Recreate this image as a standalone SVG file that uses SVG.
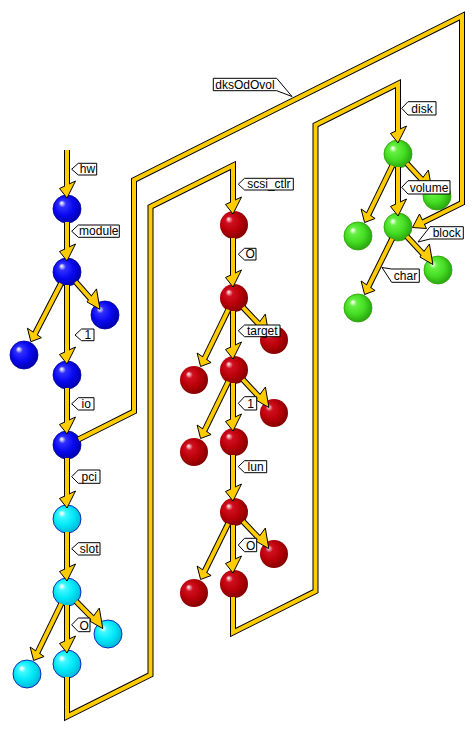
<svg xmlns="http://www.w3.org/2000/svg" xmlns:xlink="http://www.w3.org/1999/xlink" width="476" height="732" viewBox="0 0 476 732">
<style>
.ol{fill:none;stroke:#000;stroke-width:6;stroke-linejoin:miter;stroke-linecap:butt}
.yl{fill:none;stroke:#ffcc00;stroke-width:4;stroke-linejoin:miter;stroke-linecap:butt}
.ah{fill:#ffcc00;stroke:#000;stroke-width:1;stroke-linejoin:miter}
.blue{fill:url(#gBlue);stroke:#0000a0;stroke-width:0.8}
.cyan{fill:url(#gCyan);stroke:#0000b0;stroke-width:0.8}
.red{fill:url(#gRed)}
.green{fill:url(#gGreen);stroke:#30a000;stroke-width:0.8}
.tag{fill:#fff;stroke:#000;stroke-width:1}
.lt{font-family:"Liberation Sans",Arial,sans-serif;font-size:12px;fill:#000;text-anchor:middle}
</style>
<defs>
<radialGradient id="gBlue" cx="0.45" cy="0.45" r="0.58" fx="0.3" fy="0.28">
<stop offset="0" stop-color="#ffffff"/><stop offset="0.08" stop-color="#c0c0ff"/><stop offset="0.22" stop-color="#3030ff"/><stop offset="0.6" stop-color="#0808f0"/><stop offset="1" stop-color="#0000a8"/>
</radialGradient>
<radialGradient id="gCyan" cx="0.45" cy="0.45" r="0.58" fx="0.3" fy="0.28">
<stop offset="0" stop-color="#ffffff"/><stop offset="0.08" stop-color="#d0ffff"/><stop offset="0.22" stop-color="#40f8ff"/><stop offset="0.6" stop-color="#00e8f8"/><stop offset="1" stop-color="#00b4d4"/>
</radialGradient>
<radialGradient id="gRed" cx="0.45" cy="0.45" r="0.58" fx="0.3" fy="0.28">
<stop offset="0" stop-color="#ffffff"/><stop offset="0.08" stop-color="#f0a0a8"/><stop offset="0.22" stop-color="#d01020"/><stop offset="0.6" stop-color="#b80008"/><stop offset="1" stop-color="#800000"/>
</radialGradient>
<radialGradient id="gGreen" cx="0.45" cy="0.45" r="0.58" fx="0.3" fy="0.28">
<stop offset="0" stop-color="#ffffff"/><stop offset="0.08" stop-color="#d0ffc0"/><stop offset="0.22" stop-color="#66f044"/><stop offset="0.6" stop-color="#44dd22"/><stop offset="1" stop-color="#28a010"/>
</radialGradient>
<path id="ahV" class="ah" d="M0,0 L-7.5,-9.5 L8.5,-17 Z"/>
<path id="ahR" class="ah" d="M0,0 L-13,-7.5 L-3.5,-20.5 Z"/>
<path id="ahL" class="ah" d="M0,0 L-3.5,-13.5 L10.5,-4 Z"/>
<path id="ahW" class="ah" d="M0,0 L7,-13.5 L14,1 Z"/>
</defs>
<rect width="476" height="732" fill="#fff"/>
<g id="nodes">
<g id="n-hw"><circle class="blue" cx="67" cy="209" r="14"/></g>
<g id="n-module"><circle class="blue" cx="67" cy="272" r="14"/></g>
<g id="n-module-a"><circle class="blue" cx="105" cy="315" r="14"/></g>
<g id="n-module-b"><circle class="blue" cx="24" cy="355" r="14"/></g>
<g id="n-1"><circle class="blue" cx="67" cy="375" r="14"/></g>
<g id="n-io"><circle class="blue" cx="67" cy="445" r="14"/></g>
<g id="n-pci"><circle class="cyan" cx="67" cy="519" r="14"/></g>
<g id="n-slot"><circle class="cyan" cx="67" cy="592" r="14"/></g>
<g id="n-slot-a"><circle class="cyan" cx="108" cy="634" r="14"/></g>
<g id="n-slot-b"><circle class="cyan" cx="27" cy="674" r="14"/></g>
<g id="n-slot-0"><circle class="cyan" cx="67" cy="664" r="14"/></g>
<g id="n-scsi-ctlr"><circle class="red" cx="234" cy="225" r="14"/></g>
<g id="n-scsi-0"><circle class="red" cx="234" cy="298" r="14"/></g>
<g id="n-scsi-0-a"><circle class="red" cx="274" cy="340" r="14"/></g>
<g id="n-scsi-0-b"><circle class="red" cx="194" cy="380" r="14"/></g>
<g id="n-target"><circle class="red" cx="234" cy="370" r="14"/></g>
<g id="n-target-a"><circle class="red" cx="274" cy="413" r="14"/></g>
<g id="n-target-b"><circle class="red" cx="194" cy="452" r="14"/></g>
<g id="n-target-1"><circle class="red" cx="234" cy="442" r="14"/></g>
<g id="n-lun"><circle class="red" cx="234" cy="512" r="14"/></g>
<g id="n-lun-a"><circle class="red" cx="274" cy="554" r="14"/></g>
<g id="n-lun-b"><circle class="red" cx="194" cy="593" r="14"/></g>
<g id="n-lun-0"><circle class="red" cx="234" cy="584" r="14"/></g>
<g id="n-disk"><circle class="green" cx="398" cy="154" r="14"/></g>
<g id="n-disk-a"><circle class="green" cx="437" cy="196" r="14"/></g>
<g id="n-disk-b"><circle class="green" cx="358" cy="236" r="14"/></g>
<g id="n-volume"><circle class="green" cx="398" cy="227" r="14"/></g>
<g id="n-block"><circle class="green" cx="438" cy="270" r="14"/></g>
<g id="n-char"><circle class="green" cx="358" cy="308" r="14"/></g>
</g>
<g id="connectors">
<!-- long wires -->
<path class="ol" d="M78.6,439.4 L134,411.5 L134,180 L462,16 L462,203 L420.6,223.5"/>
<use href="#ahW" x="412.5" y="227.5"/>
<path class="yl" d="M78.6,439.4 L134,411.5 L134,180 L462,16 L462,203 L420.6,223.5"/>
<path class="ol" d="M67,677 L67,716.5 L150.5,674.75 L150.5,206.75 L233,165.5 L233,204"/>
<use href="#ahV" x="233" y="214"/>
<path class="yl" d="M67,677 L67,716.5 L150.5,674.75 L150.5,206.75 L233,165.5 L233,204"/>
<path class="ol" d="M233,597 L233,632.5 L315.5,591.25 L315.5,125 L398,83.75 L398,133"/>
<use href="#ahV" x="398" y="143"/>
<path class="yl" d="M233,597 L233,632.5 L315.5,591.25 L315.5,125 L398,83.75 L398,133"/>
<!-- vertical edges -->
<path class="ol" d="M67,150 V188"/><use href="#ahV" x="67" y="198"/><path class="yl" d="M67,150 V188"/>
<path class="ol" d="M67,222 V251"/><use href="#ahV" x="67" y="261"/><path class="yl" d="M67,222 V251"/>
<path class="ol" d="M67,285 V354"/><use href="#ahV" x="67" y="364"/><path class="yl" d="M67,285 V354"/>
<path class="ol" d="M67,388 V424"/><use href="#ahV" x="67" y="434"/><path class="yl" d="M67,388 V424"/>
<path class="ol" d="M67,458 V498"/><use href="#ahV" x="67" y="508"/><path class="yl" d="M67,458 V498"/>
<path class="ol" d="M67,532 V571"/><use href="#ahV" x="67" y="581"/><path class="yl" d="M67,532 V571"/>
<path class="ol" d="M67,605 V643"/><use href="#ahV" x="67" y="653"/><path class="yl" d="M67,605 V643"/>
<path class="ol" d="M233,238 V277"/><use href="#ahV" x="233" y="287"/><path class="yl" d="M233,238 V277"/>
<path class="ol" d="M233,311 V349"/><use href="#ahV" x="233" y="359"/><path class="yl" d="M233,311 V349"/>
<path class="ol" d="M233,383 V421"/><use href="#ahV" x="233" y="431"/><path class="yl" d="M233,383 V421"/>
<path class="ol" d="M233,455 V491"/><use href="#ahV" x="233" y="501"/><path class="yl" d="M233,455 V491"/>
<path class="ol" d="M233,525 V563"/><use href="#ahV" x="233" y="573"/><path class="yl" d="M233,525 V563"/>
<path class="ol" d="M398,167 V206"/><use href="#ahV" x="398" y="216"/><path class="yl" d="M398,167 V206"/>
<!-- down-right edges -->
<path class="ol" d="M75.6,281.7 L92.1,300.4"/><use href="#ahR" x="100" y="309.4"/><path class="yl" d="M75.6,281.7 L92.1,300.4"/>
<path class="ol" d="M76.1,601.3 L94.4,620"/><use href="#ahR" x="102.8" y="628.6"/><path class="yl" d="M76.1,601.3 L94.4,620"/>
<path class="ol" d="M243,307.4 L260.5,325.9"/><use href="#ahR" x="268.8" y="334.6"/><path class="yl" d="M243,307.4 L260.5,325.9"/>
<path class="ol" d="M242.9,379.5 L260.7,398.7"/><use href="#ahR" x="268.9" y="407.5"/><path class="yl" d="M242.9,379.5 L260.7,398.7"/>
<path class="ol" d="M243,521.4 L260.5,539.9"/><use href="#ahR" x="268.8" y="548.6"/><path class="yl" d="M243,521.4 L260.5,539.9"/>
<path class="ol" d="M406.9,163.5 L423.7,181.7"/><use href="#ahR" x="431.9" y="190.5"/><path class="yl" d="M406.9,163.5 L423.7,181.7"/>
<path class="ol" d="M406.9,236.5 L424.7,255.7"/><use href="#ahR" x="432.9" y="264.5"/><path class="yl" d="M406.9,236.5 L424.7,255.7"/>
<!-- down-left edges -->
<path class="ol" d="M61,283.5 L34.1,335.5"/><use href="#ahL" x="30.9" y="341.7"/><path class="yl" d="M61,283.5 L34.1,335.5"/>
<path class="ol" d="M61.3,603.7 L36.7,654.2"/><use href="#ahL" x="33.6" y="660.5"/><path class="yl" d="M61.3,603.7 L36.7,654.2"/>
<path class="ol" d="M228.3,309.7 L203.7,360.2"/><use href="#ahL" x="200.6" y="366.5"/><path class="yl" d="M228.3,309.7 L203.7,360.2"/>
<path class="ol" d="M228.3,381.7 L203.7,432.2"/><use href="#ahL" x="200.6" y="438.5"/><path class="yl" d="M228.3,381.7 L203.7,432.2"/>
<path class="ol" d="M228.2,523.7 L203.7,573.2"/><use href="#ahL" x="200.6" y="579.5"/><path class="yl" d="M228.2,523.7 L203.7,573.2"/>
<path class="ol" d="M392.3,165.7 L367.7,216.2"/><use href="#ahL" x="364.6" y="222.5"/><path class="yl" d="M392.3,165.7 L367.7,216.2"/>
<path class="ol" d="M392.2,238.7 L367.7,288.2"/><use href="#ahL" x="364.6" y="294.5"/><path class="yl" d="M392.2,238.7 L367.7,288.2"/>
</g>
<g id="labels">
<path class="tag" d="M71.7,169.2 L78.3,163.3 H96.7 V175 H78.3 Z"/><text class="lt" x="87.5" y="172.8">hw</text>
<path class="tag" d="M71.7,231.2 L78.3,225 H119.3 V237.3 H78.3 Z"/><text class="lt" x="98.8" y="235.1">module</text>
<path class="tag" d="M75,335 L81.5,329 H94 V340.7 H81.5 Z"/><text class="lt" x="87.75" y="338.5">1</text>
<path class="tag" d="M71.7,403.8 L78.3,397.7 H94 V410 H78.3 Z"/><text class="lt" x="86.15" y="407.8">io</text>
<path class="tag" d="M71.7,476.7 L78.3,470 H100 V483.3 H78.3 Z"/><text class="lt" x="89.15" y="481.1">pci</text>
<path class="tag" d="M71.7,548.8 L78.3,542.7 H100 V555 H78.3 Z"/><text class="lt" x="89.15" y="552.8">slot</text>
<path class="tag" d="M71.7,624.8 L78.3,618 H90 V631.7 H78.3 Z"/><text class="lt" x="84.15" y="629.5">O</text>
<path class="tag" d="M238.3,184.2 L244.5,178.3 H293.3 V190 H244.5 Z"/><text class="lt" x="268.9" y="187.8">scsi_ctlr</text>
<path class="tag" d="M238.3,254.2 L244.5,248.3 H256 V260 H244.5 Z"/><text class="lt" x="250.25" y="257.8">O</text>
<path class="tag" d="M238.3,330.8 L244.5,325 H280 V336.7 H244.5 Z"/><text class="lt" x="262.25" y="334.5">target</text>
<path class="tag" d="M238.3,403.3 L244.5,396.7 H256.7 V410 H244.5 Z"/><text class="lt" x="250.6" y="407.8">1</text>
<path class="tag" d="M238.3,466.7 L244.5,460.7 H266.7 V472.7 H244.5 Z"/><text class="lt" x="255.6" y="470.5">lun</text>
<path class="tag" d="M238.3,545 L244.5,538.3 H256.7 V551.7 H244.5 Z"/><text class="lt" x="250.6" y="549.5">O</text>
<path class="tag" d="M401.7,108.3 L408,101.7 H436 V115 H408 Z"/><text class="lt" x="422" y="112.8">disk</text>
<path class="tag" d="M401.7,187.3 L408,180.7 H450 V194 H408 Z"/><text class="lt" x="429" y="191.8">volume</text>
<path class="tag" d="M418,242 L430,226.7 H463.3 V239 H430 Z"/><text class="lt" x="446.65" y="236.8">block</text>
<path class="tag" d="M382,267.5 L391.7,269 H419.3 V282.3 H391.7 Z"/><text class="lt" x="405.5" y="280.1">char</text>
<path class="tag" d="M213.3,78.3 H276.7 L292,96.5 L276.7,90.7 H213.3 Z"/><text class="lt" x="245" y="88.5">dksOdOvol</text>
</g>
</svg>
